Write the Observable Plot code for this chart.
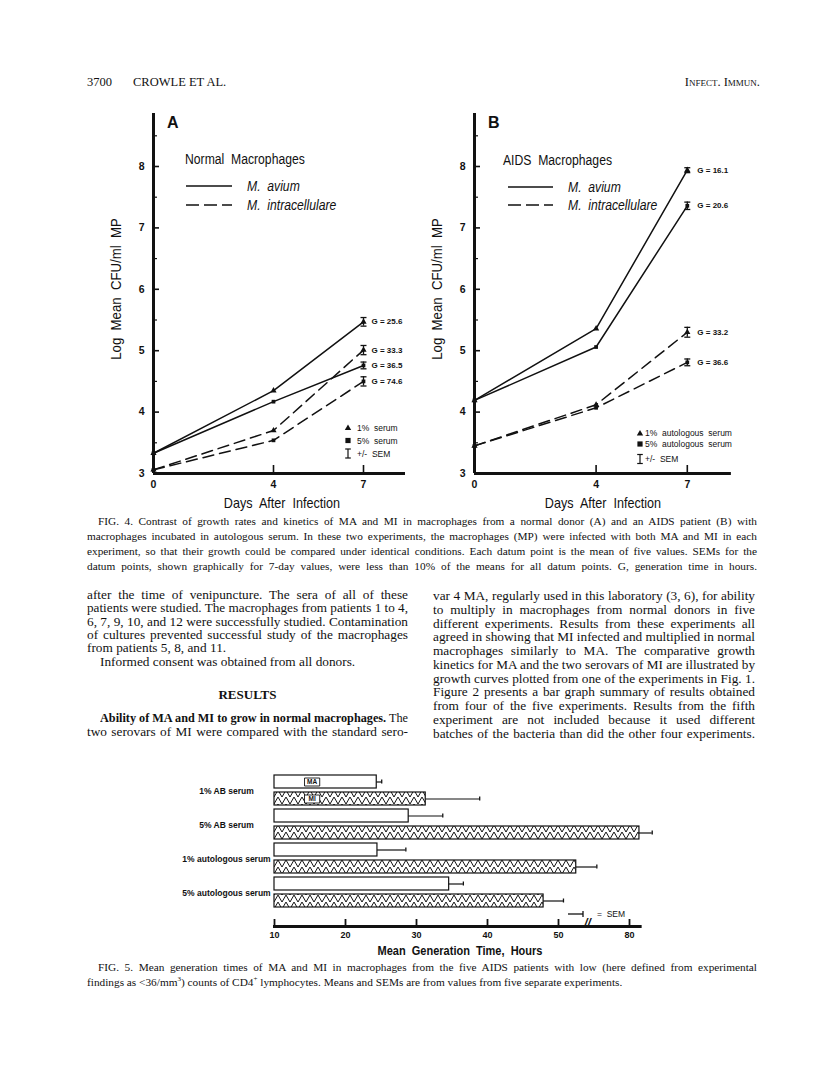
<!DOCTYPE html>
<html>
<head>
<meta charset="utf-8">
<script src="https://cdn.jsdelivr.net/npm/d3@7"></script>
<script src="https://cdn.jsdelivr.net/npm/@observablehq/plot@0.6"></script>
<style>
html,body{margin:0;padding:0;background:#fff;}
body{width:816px;height:1075px;position:relative;overflow:hidden;color:#111;font-family:"Liberation Serif","Times New Roman",serif;}
.a{position:absolute;white-space:nowrap;line-height:1;}
.sans{font-family:"Liberation Sans",Arial,Helvetica,sans-serif;}
.l{transform-origin:left center;transform:translateY(-50%) scaleX(var(--sx,1));}
.c{transform-origin:center center;transform:translate(-50%,-50%) scaleX(var(--sx,1));}
.r{transform-origin:right center;transform:translate(-100%,-50%) scaleX(var(--sx,1));}
.rot{transform-origin:center center;transform:translate(-50%,-50%) rotate(-90deg) scaleX(var(--sx,1));}
.tl{position:absolute;white-space:nowrap;}
.tl span{display:inline-block;transform-origin:left center;}
</style>
</head>
<body>
<svg width="0" height="0" style="position:absolute">
  <defs>
    <pattern id="herring" patternUnits="userSpaceOnUse" width="8" height="7">
      <path d="M0,0 L4,7 L8,0" fill="none" stroke="#111" stroke-width="1"/>
    </pattern>
  </defs>
</svg>
<script>
// ---------------- DATA ----------------
const days = [0, 4, 7];
const seriesSpecies = ["MA", "MA", "MI", "MI"];
const seriesSerum = ["1%", "5%", "1%", "5%"];
// Panel A: normal macrophages, log mean CFU/ml MP
const normalMA1 = [3.33, 4.35, 5.47];
const normalMA5 = [3.33, 4.17, 4.76];
const normalMI1 = [3.06, 3.70, 5.01];
const normalMI5 = [3.06, 3.54, 4.50];
const normalSEM = [0.07, 0.055, 0.075, 0.075];
const normalG = ["25.6", "36.5", "33.3", "74.6"];
// Panel B: AIDS macrophages
const aidsMA1 = [4.19, 5.36, 7.94];
const aidsMA5 = [4.19, 5.06, 7.36];
const aidsMI1 = [3.45, 4.12, 5.30];
const aidsMI5 = [3.45, 4.07, 4.81];
const aidsSEM = [0.04, 0.06, 0.08, 0.055];
const aidsG = ["16.1", "20.6", "33.2", "36.6"];
const yTicks = [3, 4, 5, 6, 7, 8];
const yMinorTicks = [3.5, 4.5, 5.5, 6.5, 7.5, 8.5];
const xTicks = [0, 4, 7];

// Fig. 5: mean generation time (hours)
const fig5Groups = ["1% AB serum", "5% AB serum", "1% autologous serum", "5% autologous serum"];
const maMean = [24.4, 28.9, 24.5, 34.6];
const maSEM = [0.7, 4.8, 4.0, 2.0];
const miMean = [31.3, 81.4, 52.5, 47.9];
const miSEM = [7.6, 1.8, 2.9, 2.8];
const fig5Ticks = [10, 20, 30, 40, 50, 80];
const fig5BreakAt = 54.1;
const fig5TagAt = 15.3;

const ink = "#111";
const SANS = "Liberation Sans, Arial, Helvetica, sans-serif";

// ---------------- helpers ----------------
function addDiv(html, x, y, cls, style) {
  const d = document.createElement("div");
  d.className = cls;
  d.innerHTML = html;
  d.style.left = x + "px";
  d.style.top = y + "px";
  for (const k in (style || {})) {
    if (k.startsWith("--")) d.style.setProperty(k, style[k]); else d.style[k] = style[k];
  }
  document.body.appendChild(d);
  return d;
}
function place(svg, left, top) {
  svg.style.position = "absolute";
  svg.style.left = left + "px";
  svg.style.top = top + "px";
  svg.style.overflow = "visible";
  document.body.appendChild(svg);
}
const capSym = {draw(ctx, size) { const r = Math.sqrt(size / Math.PI); ctx.moveTo(-r, 0); ctx.lineTo(r, 0); }};
const boxSym = {draw(ctx, size) { const r = Math.sqrt(size / Math.PI); ctx.rect(-r * 1.9, -r, r * 3.8, r * 2); }};

// ---------------- Fig 4 panels ----------------
const pxPerLog = 61.4;
function panel(vals, sems, gs, o) {
  const rows = [], ends = [];
  vals.forEach((v, s) => v.forEach((y, i) => {
    const r = {s, species: seriesSpecies[s], serum: seriesSerum[s], day: days[i], value: y};
    rows.push(r);
    if (i === days.length - 1) ends.push({...r, sem: sems[s], g: gs[s]});
  }));
  const frameW = o.xMax * o.pxDay;
  const frameH = 360;
  const yTop = 3 + frameH / pxPerLog;
  const svg = Plot.plot({
    width: o.width, height: o.height,
    marginLeft: o.mL, marginTop: o.mT, marginBottom: o.height - o.mT - frameH,
    marginRight: o.width - o.mL - frameW,
    x: {domain: [0, o.xMax], label: null},
    y: {domain: [3, yTop], label: null},
    style: {fontFamily: SANS, color: ink, background: "transparent"},
    marks: [
      Plot.ruleY([3], {strokeWidth: 3, stroke: ink}),
      Plot.ruleX([0], {strokeWidth: 3, stroke: ink}),
      Plot.axisY(yTicks, {tickSize: 6, dx: 6, fill: "none", strokeWidth: 1.6}),
      Plot.axisY(yMinorTicks, {tickSize: 4, dx: 4, fill: "none", strokeWidth: 1.2}),
      Plot.axisY(yTicks, {tickSize: 0, tickPadding: 9, fontSize: 10.5, fontWeight: "bold", label: null, tickFormat: d => String(d)}),
      Plot.axisX(xTicks, {tickSize: 8, dy: -8, fill: "none", strokeWidth: 1.6}),
      Plot.axisX(xTicks, {tickSize: 0, tickPadding: 7, fontSize: 10.5, fontWeight: "bold", label: null, tickFormat: d => String(d)}),
      Plot.line(rows.filter(d => d.species === "MA"), {x: "day", y: "value", z: "s", stroke: ink, strokeWidth: 1.5}),
      Plot.line(rows.filter(d => d.species === "MI"), {x: "day", y: "value", z: "s", stroke: ink, strokeWidth: 1.5, strokeDasharray: "11,6"}),
      Plot.dot(rows.filter(d => d.serum === "1%"), {x: "day", y: "value", symbol: "triangle", r: 2.3, fill: ink}),
      Plot.dot(rows.filter(d => d.serum === "5%"), {x: "day", y: "value", symbol: "square", r: 2.1, fill: ink}),
      Plot.ruleX(ends, {x: "day", y1: d => d.value - d.sem, y2: d => d.value + d.sem, stroke: ink, strokeWidth: 1.3}),
      Plot.dot(ends, {x: "day", y: d => d.value + d.sem, symbol: capSym, r: 3, fill: "none", stroke: ink, strokeWidth: 1.3}),
      Plot.dot(ends, {x: "day", y: d => d.value - d.sem, symbol: capSym, r: 3, fill: "none", stroke: ink, strokeWidth: 1.3}),
      Plot.text(ends, {x: "day", y: "value", text: d => "G = " + d.g, dx: o.gdx, textAnchor: "start", fontSize: 8, fontWeight: 600, fill: ink})
    ]
  });
  place(svg, o.left, o.top);
}
panel([normalMA1, normalMA5, normalMI1, normalMI5], normalSEM, normalG,
  {left: 100, top: 100, width: 320, height: 400, mL: 53, mT: 13, xMax: 8.4, pxDay: 30, gdx: 8});
panel([aidsMA1, aidsMA5, aidsMI1, aidsMI5], aidsSEM, aidsG,
  {left: 421, top: 100, width: 330, height: 400, mL: 53, mT: 13, xMax: 8.45, pxDay: 30.4, gdx: 10});

// ---------------- Fig 5 ----------------
const brk = v => v > 60 ? v - 20 : v;
const bars = [];
fig5Groups.forEach((g, i) => {
  bars.push({group: g, series: "MA", key: g + "|MA", value: maMean[i], sem: maSEM[i]});
  bars.push({group: g, series: "MI", key: g + "|MI", value: miMean[i], sem: miSEM[i]});
});
const tags = [{key: fig5Groups[0] + "|MA", text: "MA"}, {key: fig5Groups[0] + "|MI", text: "MI"}];
const f5 = {width: 520, height: 185, mL: 124, mT: 8, frameH: 142, xMax: 61.5, px: 7.1};
const f5Step = f5.frameH / (8 - 0.22 + 0.2);
const f5TickPos = fig5Ticks.map(brk);
const fig5 = Plot.plot({
  width: f5.width, height: f5.height,
  marginLeft: f5.mL, marginTop: f5.mT, marginBottom: f5.height - f5.mT - f5.frameH,
  marginRight: f5.width - f5.mL - (f5.xMax - 10) * f5.px,
  x: {domain: [10, f5.xMax], label: null},
  y: {domain: bars.map(d => d.key), paddingInner: 0.22, paddingOuter: 0.1, label: null, axis: null},
  style: {fontFamily: SANS, color: ink, background: "transparent"},
  marks: [
    Plot.barX(bars.filter(d => d.series === "MA"), {y: "key", x1: 10, x2: d => brk(d.value), fill: "white", stroke: ink, strokeWidth: 1.2}),
    Plot.barX(bars.filter(d => d.series === "MI"), {y: "key", x1: 10, x2: d => brk(d.value), fill: "url(#herring)", stroke: ink, strokeWidth: 1.2}),
    Plot.ruleY(bars, {y: "key", x1: d => brk(d.value), x2: d => brk(d.value + d.sem), stroke: ink, strokeWidth: 1.2}),
    Plot.tickX(bars, {y: "key", x: d => brk(d.value + d.sem), insetTop: 4.5, insetBottom: 4.5, stroke: ink, strokeWidth: 1.3}),
    Plot.text(bars.filter(d => d.series === "MA"), {y: "key", text: "group", frameAnchor: "left", dx: -48, dy: f5Step / 2, textAnchor: "middle", fontSize: 8.5, fontWeight: 600, fill: ink}),
    Plot.dot(tags, {x: () => fig5TagAt, y: "key", symbol: boxSym, r: 4, fill: "white", stroke: ink, strokeWidth: 0.9}),
    Plot.text(tags, {x: () => fig5TagAt, y: "key", text: "text", fontSize: 6.5, fontWeight: "bold", fill: ink}),
    Plot.frame({anchor: "bottom", dy: 14, stroke: ink, strokeWidth: 3}),
    Plot.axisX(f5TickPos, {tickSize: 7, dy: 7, fill: "none", strokeWidth: 1.8}),
    Plot.axisX(f5TickPos, {tickSize: 0, tickPadding: 19, fontSize: 9, fontWeight: "bold", label: null,
      tickFormat: v => String(fig5Ticks[f5TickPos.indexOf(v)])}),
    Plot.text([fig5BreakAt], {x: d => d, text: () => "//", frameAnchor: "bottom", dy: 14, fontSize: 12, fontWeight: "bold", fontStyle: "italic", fill: ink})
  ]
});
place(fig5, 150, 762);

// ---------------- legend glyphs (overlay) ----------------
const ov = document.createElementNS("http://www.w3.org/2000/svg", "svg");
ov.setAttribute("width", 816); ov.setAttribute("height", 1075);
ov.style.cssText = "position:absolute;left:0;top:0;pointer-events:none";
function tri(x, y) { return `<polygon points="${x},${y-3} ${x+3.2},${y+2.4} ${x-3.2},${y+2.4}" fill="${ink}"/>`; }
function sq(x, y) { return `<rect x="${x-2.6}" y="${y-2.6}" width="5.2" height="5.2" fill="${ink}"/>`; }
function semI(x, y) { return `<g stroke="${ink}" stroke-width="1.2"><line x1="${x}" x2="${x}" y1="${y-4.5}" y2="${y+4.5}"/><line x1="${x-2.8}" x2="${x+2.8}" y1="${y-4.5}" y2="${y-4.5}"/><line x1="${x-2.8}" x2="${x+2.8}" y1="${y+4.5}" y2="${y+4.5}"/></g>`; }
function lines(x1, x2, y1, y2) {
  return `<line x1="${x1}" x2="${x2}" y1="${y1}" y2="${y1}" stroke="${ink}" stroke-width="1.5"/>` +
         `<line x1="${x1}" x2="${x2}" y1="${y2}" y2="${y2}" stroke="${ink}" stroke-width="1.5" stroke-dasharray="13,5"/>`;
}
ov.innerHTML =
  lines(186, 232, 186, 205) + tri(348, 427.5) + sq(348, 440.5) + semI(348, 453.5) +
  lines(508, 553, 187, 205) + tri(640, 433) + sq(640, 444) + semI(640, 459) +
  `<g stroke="${ink}" stroke-width="1.3"><line x1="568" x2="583" y1="914" y2="914"/><line x1="583" x2="583" y1="911" y2="917"/></g>`;
document.body.appendChild(ov);

// ---------------- chart texts ----------------
const S = "a sans ";
addDiv("A", 167, 122.5, S + "l", {fontSize: "16px", fontWeight: "bold"});
addDiv("B", 488, 122.5, S + "l", {fontSize: "16px", fontWeight: "bold"});
addDiv("Normal&nbsp; Macrophages", 185, 159, S + "l", {fontSize: "14px", "--sx": 0.87});
addDiv("AIDS&nbsp; Macrophages", 503, 160, S + "l", {fontSize: "14px", "--sx": 0.87});
addDiv("M.&nbsp; avium", 247, 186, S + "l", {fontSize: "14px", fontStyle: "italic", "--sx": 0.87});
addDiv("M.&nbsp; intracellulare", 247, 205, S + "l", {fontSize: "14px", fontStyle: "italic", "--sx": 0.87});
addDiv("M.&nbsp; avium", 568, 187, S + "l", {fontSize: "14px", fontStyle: "italic", "--sx": 0.87});
addDiv("M.&nbsp; intracellulare", 568, 205, S + "l", {fontSize: "14px", fontStyle: "italic", "--sx": 0.87});
addDiv("Log&nbsp; Mean&nbsp; CFU/ml&nbsp; MP", 115, 289, S + "rot", {fontSize: "15px", "--sx": 0.88});
addDiv("Log&nbsp; Mean&nbsp; CFU/ml&nbsp; MP", 435.5, 289, S + "rot", {fontSize: "15px", "--sx": 0.88});
addDiv("Days&nbsp; After&nbsp; Infection", 282, 502, S + "c", {fontSize: "15px", "--sx": 0.84});
addDiv("Days&nbsp; After&nbsp; Infection", 603, 502, S + "c", {fontSize: "15px", "--sx": 0.84});
const small = {fontSize: "8.5px"};
addDiv("1%&nbsp; serum", 357, 427.5, S + "l", small);
addDiv("5%&nbsp; serum", 357, 440.5, S + "l", small);
addDiv("+/-&nbsp; SEM", 357, 453.5, S + "l", small);
addDiv("1%&nbsp; autologous&nbsp; serum", 645, 433, S + "l", small);
addDiv("5%&nbsp; autologous&nbsp; serum", 645, 444, S + "l", small);
addDiv("+/-&nbsp; SEM", 645, 459, S + "l", small);
addDiv("=&nbsp; SEM", 597, 914, S + "l", small);
addDiv("Mean&nbsp; Generation&nbsp; Time,&nbsp; Hours", 460, 951, S + "c", {fontSize: "12.5px", fontWeight: "bold", "--sx": 0.88});

// ---------------- page text ----------------
addDiv("3700", 87, 82, "a l", {fontSize: "12.5px"});
addDiv("CROWLE ET AL.", 133, 82, "a l", {fontSize: "12.5px"});
addDiv("Infect. Immun.", 760, 82, "a r", {fontSize: "12.5px", fontVariant: "small-caps"});

function textLine(html, x, cy, width, justify, fs) {
  const d = document.createElement("div");
  d.className = "tl";
  d.style.left = x + "px";
  d.style.top = (cy - 7.9) + "px";
  d.style.fontSize = fs + "px";
  d.style.lineHeight = "14px";
  const sp = document.createElement("span");
  sp.innerHTML = html;
  d.appendChild(sp);
  document.body.appendChild(d);
  const nat = sp.getBoundingClientRect().width;
  const txt = sp.textContent;
  if (nat > width) {
    sp.style.transform = "scaleX(" + (width / nat) + ")";
  } else if (justify) {
    const spaces = (txt.match(/ /g) || []).length;
    if (spaces) sp.style.wordSpacing = ((width - nat) / spaces) + "px";
  }
  return d;
}
const cap4 = [
  "FIG. 4. Contrast of growth rates and kinetics of MA and MI in macrophages from a normal donor (A) and an AIDS patient (B) with",
  "macrophages incubated in autologous serum. In these two experiments, the macrophages (MP) were infected with both MA and MI in each",
  "experiment, so that their growth could be compared under identical conditions. Each datum point is the mean of five values. SEMs for the",
  "datum points, shown graphically for 7-day values, were less than 10% of the means for all datum points. G, generation time in hours."
];
cap4.forEach((t, i) => textLine(t, i === 0 ? 98 : 87, 522 + i * 14.8, i === 0 ? 659 : 670, true, 11.3));

const leftCol = [
  ["after the time of venipuncture. The sera of all of these", 87, 321, true],
  ["patients were studied. The macrophages from patients 1 to 4,", 87, 321, true],
  ["6, 7, 9, 10, and 12 were successfully studied. Contamination", 87, 321, true],
  ["of cultures prevented successful study of the macrophages", 87, 321, true],
  ["from patients 5, 8, and 11.", 87, 321, false],
  ["Informed consent was obtained from all donors.", 100, 308, false]
];
const BODY = 13.3;
leftCol.forEach((l, i) => textLine(l[0], l[1], 596 + i * 13.3, l[2], l[3], BODY));
addDiv("RESULTS", 247.5, 694, "a c", {fontSize: "13px", fontWeight: "bold"});
textLine("<b>Ability of MA and MI to grow in normal macrophages.</b> The", 100, 719, 308, true, BODY);
textLine("two serovars of MI were compared with the standard sero-", 87, 733, 321, true, BODY);

const rightCol = [
  "var 4 MA, regularly used in this laboratory (3, 6), for ability",
  "to multiply in macrophages from normal donors in five",
  "different experiments. Results from these experiments all",
  "agreed in showing that MI infected and multiplied in normal",
  "macrophages similarly to MA. The comparative growth",
  "kinetics for MA and the two serovars of MI are illustrated by",
  "growth curves plotted from one of the experiments in Fig. 1.",
  "Figure 2 presents a bar graph summary of results obtained",
  "from four of the five experiments. Results from the fifth",
  "experiment are not included because it used different",
  "batches of the bacteria than did the other four experiments."
];
rightCol.forEach((t, i) => textLine(t, 433, 597 + i * 13.75, 322, true, BODY));

const cap5 = [
  "FIG. 5. Mean generation times of MA and MI in macrophages from the five AIDS patients with low (here defined from experimental",
  "findings as &lt;36/mm<sup style=\"font-size:7px;line-height:0\">3</sup>) counts of CD4<sup style=\"font-size:7px;line-height:0\">+</sup> lymphocytes. Means and SEMs are from values from five separate experiments."
];
cap5.forEach((t, i) => textLine(t, i === 0 ? 98 : 87, 968 + i * 14.8, i === 0 ? 659 : 670, i === 0, 11.3));
</script>
</body>
</html>
